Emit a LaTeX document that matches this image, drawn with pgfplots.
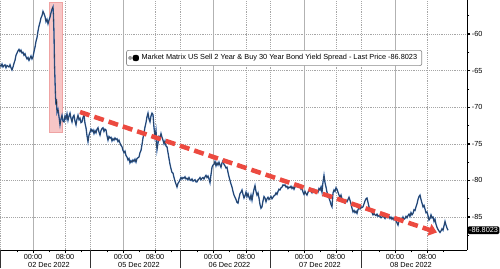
\documentclass[border=0pt]{standalone}
\usepackage{pgfplots}
\pgfplotsset{compat=1.18}
\usepackage{pgfplotstable}
\usepackage{fontspec}
\setmainfont{Liberation Sans}
\usetikzlibrary{arrows.meta}
\definecolor{lineblue}{HTML}{2F63A8}
\definecolor{arrowred}{HTML}{EC4A40}
\definecolor{pinkfill}{HTML}{F7C6C6}
\definecolor{pinkdraw}{HTML}{EFA3A3}
\pgfplotstableread{
x y
0 -64.2
1 -64.4
2 -64.1
3 -64.5
4 -64.3
5 -64.2
6 -64.6
7 -64.3
8 -64.4
9 -64.5
10 -64.2
11 -64.6
12 -64.9
13 -64.5
14 -64.0
15 -63.6
16 -62.9
17 -62.6
18 -62.3
19 -62.1
20 -62.4
21 -62.2
22 -62.6
23 -62.5
24 -62.9
25 -62.7
26 -63.1
27 -63.4
28 -63.2
29 -63.6
30 -63.3
31 -63.0
32 -63.4
33 -63.1
34 -62.4
35 -61.8
36 -61.0
37 -60.5
38 -59.6
39 -58.9
40 -58.4
41 -57.8
42 -57.5
43 -56.9
44 -57.2
45 -57.6
46 -58.3
47 -58.0
48 -58.6
49 -58.1
50 -57.7
51 -57.1
52 -56.6
53 -56.3
53.5 -57.5
54 -60.0
54.5 -64.0
55 -66.3
55.5 -68.5
56 -69.7
56.5 -68.9
57 -70.7
58 -70.3
59 -71.3
60 -72.4
61 -71.6
62 -71.1
63 -71.9
64 -72.0
65 -71.2
66 -71.6
67 -70.9
68 -71.8
69 -71.2
70 -70.8
71 -71.5
72 -72.0
73 -71.3
74 -71.1
75 -71.9
76 -72.4
77 -71.6
78 -71.1
79 -71.7
80 -71.5
81 -72.1
82 -72.0
83 -71.4
84 -71.1
85 -72.2
86 -72.8
87 -73.9
88 -74.7
89 -73.8
90 -73.4
91 -73.0
92 -73.3
93 -73.1
94 -73.6
95 -73.2
96 -73.5
97 -73.0
98 -72.8
99 -73.4
100 -73.8
101 -73.2
102 -72.9
103 -72.8
104 -73.3
105 -73.0
106 -73.1
107 -73.9
108 -74.5
109 -74.0
110 -74.2
111 -74.1
112 -74.6
113 -74.3
114 -74.5
115 -74.2
116 -74.4
117 -74.3
118 -74.7
119 -74.5
120 -74.9
121 -75.2
122 -75.4
123 -75.9
124 -76.2
125 -76.0
126 -76.6
127 -76.8
128 -77.2
129 -77.0
130 -77.6
131 -77.3
132 -77.5
133 -77.2
134 -77.4
135 -77.1
136 -77.5
137 -77.0
138 -76.9
139 -76.8
140 -76.2
141 -75.9
142 -75.1
143 -74.2
144 -73.5
145 -72.7
146 -72.1
147 -71.3
148 -70.8
149 -71.6
150 -72.0
151 -71.2
152 -70.8
153 -71.0
154 -72.8
155 -74.1
156 -73.2
157 -75.8
158 -74.9
159 -74.0
160 -74.2
161 -73.6
162 -74.1
163 -74.5
164 -75.0
165 -74.6
166 -75.3
167 -75.4
168 -76.2
169 -77.0
170 -77.8
171 -78.4
172 -78.9
173 -79.0
174 -79.6
175 -80.1
176 -80.5
177 -80.9
178 -80.4
179 -80.2
180 -79.9
181 -79.6
182 -79.8
183 -79.6
184 -79.7
185 -79.5
186 -79.8
187 -79.7
188 -79.9
189 -79.6
190 -79.9
191 -80.0
192 -79.8
193 -80.1
194 -80.0
195 -79.9
196 -80.2
197 -80.2
198 -79.9
199 -79.8
200 -79.6
201 -79.9
202 -79.7
203 -79.6
204 -79.8
205 -79.5
206 -79.3
207 -79.6
208 -79.4
209 -79.8
210 -80.3
211 -79.2
212 -78.2
213 -77.9
214 -77.8
215 -77.4
216 -78.0
217 -77.6
218 -77.9
219 -77.5
220 -77.9
221 -78.2
222 -77.6
223 -77.3
224 -77.8
225 -78.0
226 -78.3
227 -78.2
228 -78.9
229 -79.5
230 -80.0
231 -80.5
232 -80.9
233 -81.5
234 -82.0
235 -82.3
236 -82.6
237 -83.0
238 -83.1
239 -82.4
240 -81.8
241 -81.6
242 -81.3
243 -81.9
244 -82.4
245 -82.1
246 -81.6
247 -82.2
248 -81.8
249 -82.3
250 -82.6
251 -82.0
252 -82.7
253 -81.9
254 -81.2
255 -80.7
256 -81.5
257 -82.0
258 -81.7
259 -82.4
260 -83.3
261 -83.8
262 -83.6
263 -82.8
264 -82.2
265 -82.4
266 -82.9
267 -82.5
268 -82.3
269 -82.6
270 -82.4
271 -82.2
272 -82.5
273 -82.3
274 -82.1
275 -82.0
276 -81.7
277 -81.9
278 -81.5
279 -81.2
280 -81.3
281 -81.0
282 -80.9
283 -80.6
284 -80.7
285 -80.6
286 -80.9
287 -80.8
288 -81.1
289 -80.9
290 -81.0
291 -80.8
292 -81.1
293 -80.9
294 -81.2
295 -80.9
296 -80.6
297 -80.8
298 -80.5
299 -80.7
300 -80.9
301 -81.2
302 -81.0
303 -81.6
304 -81.9
305 -81.5
306 -81.8
307 -82.0
308 -81.6
309 -81.4
310 -81.3
311 -81.5
312 -81.7
313 -81.4
314 -81.2
315 -81.3
316 -81.7
317 -81.4
318 -81.6
319 -81.1
320 -81.3
321 -80.9
322 -81.6
323 -80.2
324 -79.3
325 -80.3
326 -80.9
327 -81.6
328 -82.0
329 -82.4
330 -82.8
331 -83.3
332 -83.6
333 -81.7
334 -81.3
335 -81.5
336 -81.0
337 -81.2
338 -81.6
339 -82.0
340 -82.3
341 -82.0
342 -82.5
343 -82.7
344 -83.0
345 -83.1
346 -82.7
347 -82.9
348 -82.6
349 -82.3
350 -82.7
351 -83.2
352 -83.8
353 -84.3
354 -84.1
355 -84.4
356 -84.2
357 -84.5
358 -84.0
359 -83.7
360 -83.9
361 -83.6
362 -83.7
363 -83.6
364 -83.2
365 -82.8
366 -82.5
367 -82.4
368 -83.0
369 -83.6
370 -84.0
371 -84.2
372 -84.4
373 -84.7
374 -84.5
375 -84.7
376 -84.8
377 -84.6
378 -84.9
379 -84.8
380 -84.9
381 -85.1
382 -85.0
383 -84.8
384 -85.0
385 -85.2
386 -84.9
387 -85.1
388 -85.1
389 -84.9
390 -85.2
391 -85.0
392 -85.3
393 -85.1
394 -85.4
395 -85.2
396 -85.5
397 -85.8
398 -86.1
399 -85.5
400 -85.2
401 -85.5
402 -85.4
403 -85.0
404 -85.3
405 -85.2
406 -84.9
407 -85.1
408 -84.8
409 -84.6
410 -84.9
411 -84.4
412 -84.7
413 -84.5
414 -84.0
415 -84.1
416 -83.6
417 -83.2
418 -82.6
419 -82.2
420 -82.0
421 -82.6
422 -83.1
423 -83.6
424 -83.4
425 -83.9
426 -84.4
427 -84.3
428 -84.8
429 -85.4
430 -85.2
431 -84.7
432 -85.1
433 -85.0
434 -85.6
435 -85.3
436 -86.0
437 -86.4
438 -86.7
439 -86.9
440 -87.1
441 -86.9
442 -86.6
443 -86.8
444 -86.2
445 -85.6
446 -86.1
447 -86.5
448 -86.8
}\spread
\begin{document}
\begin{tikzpicture}[font=\fontsize{5.5}{6.6}\selectfont]
\begin{axis}[
  name=ax, scale only axis, width=350.25pt, height=187.5pt,
  xmin=0, xmax=467, ymin=-89.5, ymax=-55.35,
  axis x line*=bottom, axis y line*=right,
  axis line style={black, line width=0.5pt},
  clip=false,
  xtick={33,65,123,155,213,246,304,336,395,427},
  xticklabels={00:00,08:00,00:00,08:00,00:00,08:00,00:00,08:00,00:00,08:00},
  minor xtick={17,49,81,107,139,171,197,229,262,288,320,352,379,411,443},
  ytick={-85,-80,-75,-70,-65,-60},
  yticklabels={-85,-80,-75,-70,-65,-60},
  minor ytick={-87.5,-82.5,-77.5,-72.5,-67.5,-62.5,-57.5},
  xmajorgrids, ymajorgrids,
  grid style={densely dotted, black!35, line width=0.5pt},
  tick align=outside, major tick length=2.5pt, minor tick length=1.8pt,
  tick style={black, line width=0.4pt},
  ytick style={line width=1pt},
  minor y tick style={line width=0.4pt},
  extra x ticks={0,90,180,270.5,361},
  extra x tick labels={},
  extra x tick style={major tick length=13.5pt, xmajorgrids, tick style={black!80, line width=0.5pt}},
  xticklabel style={inner sep=1pt, yshift=0.5pt},
  yticklabel style={inner sep=1pt, xshift=0pt},
  legend style={at={(axis description cs:0.587,0.768)}, anchor=center,
    draw=black!45, rounded corners=1.5pt, line width=0.5pt,
    font=\fontsize{5.5}{6.6}\selectfont, inner xsep=1.5pt, inner ysep=1pt},
  legend image code/.code={
    \fill[black!40] (0pt,-1.2pt) rectangle (2.4pt,1.2pt);
    \fill[black] (3.2pt,-2.2pt) rectangle (7.6pt,2.2pt);
  },
]
\fill[pinkfill, draw=pinkdraw, line width=0.4pt] (axis cs:49,-55.6) rectangle (axis cs:62,-73.4);
\foreach \xx in {33,123,213,304,395}{
  \edef\temp{\noexpand\draw[black!30, line width=0.7pt] (axis cs:\xx,-89.5) -- (axis cs:\xx,-55.35);}
  \temp
}
\addplot[lineblue, line width=1pt, forget plot] table[x=x, y=y] {\spread};
\addplot[black!85, line width=0.22pt] table[x=x, y=y] {\spread};
\addlegendentry{Market Matrix US Sell 2 Year \& Buy 30 Year Bond Yield Spread - Last Price -86.8023}
\draw[arrowred, line width=3.4pt, dash pattern=on 7.5pt off 3.8pt,
  -{Triangle[length=6pt, width=9pt]}] (axis cs:80,-70.65) -- (axis cs:437,-87.1);
\node[fill=black, text=white, rounded corners=1pt, anchor=west, inner xsep=1pt, inner ysep=1pt]
  at (axis cs:467.5,-86.8) {-86.8023};
\foreach \xx/\dd in {49/02, 139/05, 229.5/06, 320/07, 411/08}{
  \edef\temp{\noexpand\node[anchor=center, yshift=-11.3pt, inner sep=0pt] at (axis cs:\xx,-89.5) {\dd\space Dec 2022};}
  \temp
}
\end{axis}
\pgfresetboundingbox
\path ([yshift=-13.5pt]ax.south west) rectangle ([xshift=24.75pt]ax.north east);
\end{tikzpicture}
\end{document}
